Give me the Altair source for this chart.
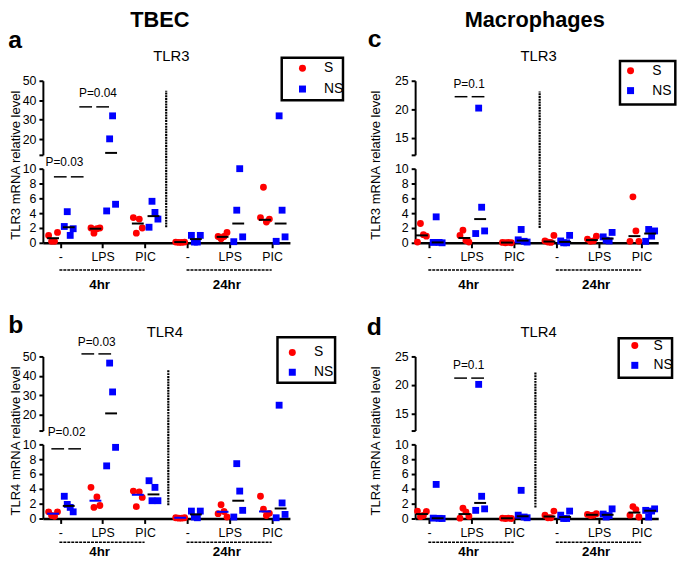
import json
import altair as alt
import pandas as pd

FONT = "Liberation Sans"
GROUP_LABELS = ["-", "LPS", "PIC", "-", "LPS", "PIC"]
TIME_LABELS = ["4hr", "24hr"]
TIME_CENTERS = [1, 4]
SERIES = ["S", "NS"]
SERIES_COLORS = ["#ff0000", "#0000ff"]
SERIES_SHAPES = ["circle", "square"]

# ---------------- a : TBEC, TLR3 ----------------
a_S = [[1.0, 0.2, 0.2, 1.4], [2.0, 1.3, 1.9, 2.0], [3.4, 1.3, 3.2, 2.0],
       [0.1, 0.05, 0.05, 0.1], [0.85, 0.55, 0.85, 1.4], [3.4, 7.5, 2.8, 3.2]]
a_NS = [[2.2, 4.2, 1.0, 1.9], [4.3, 20.2, 32.0, 5.2], [2.1, 5.6, 4.1, 3.2],
        [1.0, 0.1, 0.1, 1.0], [0.15, 4.4, 10.0, 0.8], [0.2, 32.0, 4.4, 0.8]]
a_med_S = [0.62, 1.9, 2.6, 0.1, 0.8, 3.1]
a_med_NS = [2.1, 13.0, 3.6, 0.5, 2.6, 2.6]
a_p_text = ["P=0.03", "P=0.04"]
a_p_x = [0.2, 0.8]
a_p_y = [8.9, 36.6]
a_p_text_x = [0.1, 0.89]
a_p_text_y = [10.9, 43.9]

# ---------------- b : TBEC, TLR4 ----------------
b_S = [[0.9, 0.4, 0.3, 0.9], [4.2, 1.5, 2.9, 1.75], [3.7, 1.6, 3.6, 2.85],
       [0.1, 0.05, 0.05, 0.1], [0.65, 1.85, 0.95, 0.2], [3.0, 1.25, 0.4, 0.7]]
b_NS = [[3.0, 1.9, 1.5, 0.9], [7.1, 46.6, 31.8, 9.6], [5.1, 2.4, 4.2, 2.4],
        [1.0, 0.2, 0.1, 1.0], [0.2, 7.4, 3.7, 1.1], [0.1, 25.0, 2.1, 0.55]]
b_med_S = [0.65, 2.4, 3.2, 0.1, 0.9, 0.95]
b_med_NS = [1.7, 20.8, 3.25, 0.55, 2.4, 1.35]
b_p_text = ["P=0.02", "P=0.03"]
b_p_x = [0.14, 0.85]
b_p_y = [9.4, 51.3]
b_p_text_x = [0.15, 0.86]
b_p_text_y = [11.2, 57.6]

# ---------------- c : Macrophages, TLR3 ----------------
c_S = [[0.1, 2.6, 1.1, 0.9], [1.0, 1.7, 0.3, 0.1], [0.05, 0.0, 0.05, 0.0],
       [0.25, 0.1, 0.05, 1.0], [0.5, 0.2, 0.25, 0.9], [0.2, 6.2, 1.6, 0.2]]
c_NS = [[0.05, 3.5, 0.05, 0.0], [1.25, 20.2, 4.8, 1.6], [0.4, 1.8, 0.2, 0.1],
        [0.25, 0.0, 0.0, 1.0], [0.8, 0.35, 0.25, 1.4], [0.2, 1.8, 0.9, 1.6]]
c_med_S = [1.0, 0.65, 0.03, 0.17, 0.37, 0.9]
c_med_NS = [0.05, 3.2, 0.3, 0.12, 0.57, 1.25]
c_p_text = ["P=0.1"]
c_p_x = [0.95]
c_p_y = [22.2]
c_p_text_x = [0.94]
c_p_text_y = [24.4]

# ---------------- d : Macrophages, TLR4 ----------------
d_S = [[1.0, 0.25, 0.4, 0.95], [0.05, 1.4, 0.9, 0.3], [0.05, 0.0, 0.05, 0.0],
       [0.45, 0.1, 0.1, 1.0], [0.55, 0.4, 0.45, 0.65], [0.45, 1.6, 1.2, 0.2]]
d_NS = [[0.05, 4.6, 0.02, 0.0], [1.1, 20.1, 3.0, 1.3], [0.45, 3.8, 0.2, 0.1],
        [0.45, 0.0, 0.0, 1.0], [0.6, 0.2, 0.4, 1.3], [1.1, 0.2, 1.0, 1.3]]
d_med_S = [0.6, 0.6, 0.03, 0.27, 0.5, 0.8]
d_med_NS = [0.03, 2.1, 0.3, 0.2, 0.5, 1.05]
d_p_text = ["P=0.1"]
d_p_x = [0.94]
d_p_y = [21.2]
d_p_text_x = [0.93]
d_p_text_y = [23.5]

H = 75  # height of each axis segment
X_CALC = "datum.g + (datum.s == 'S' ? -0.17 : 0.2)"
ONE = alt.Data(values=[{"k": 1}])


def point_df(S, NS):
    rows = []
    for s, arr in zip(SERIES, [S, NS]):
        for g, vals in enumerate(arr):
            for i, v in enumerate(vals):
                rows.append({"g": g, "s": s, "i": i, "v": v})
    return pd.DataFrame(rows)


def med_df(mS, mNS, cS, cNS):
    rows = []
    for s, arr, col in zip(SERIES, [mS, mNS], [cS, cNS]):
        for g, v in enumerate(arr):
            rows.append({"g": g, "s": s, "v": v, "c": col})
    return pd.DataFrame(rows)


def pdash_df(px, py):
    return pd.DataFrame([{"dx": x, "v": y, "side": sd}
                         for x, y in zip(px, py) for sd in (-1, 1)])


def ptext_df(pt, tx, ty):
    return pd.DataFrame({"t": pt, "x": tx, "v": ty})


def single_text(text, x, y, size, weight="normal", align="center", baseline="middle"):
    return alt.Chart(ONE).mark_text(
        text=text, fontSize=size, fontWeight=weight, align=align,
        baseline=baseline, font=FONT, color="black"
    ).encode(x=alt.value(x), y=alt.value(y))


YAX = dict(tickSize=4, tickWidth=2, domainWidth=2, labelPadding=3, labelFontSize=12.5,
           labelFont=FONT, grid=False, domainColor="black", tickColor="black",
           labelColor="black", labelOverlap=False, labelFlush=False)


def segment(p, upper):
    W = p["width"]
    xs = alt.Scale(domain=p["xdom"], nice=False, zero=False)
    if upper:
        ys = alt.Scale(domain=p["up_dom"], nice=False, zero=False)
        yaxis = alt.Axis(values=p["up_ticks"], title=None,
                         labelExpr=f"datum.value == {p['up_dom'][0]} ? '' : datum.label", **YAX)
        xaxis = None
        filt = "datum.v > 11"
    else:
        ys = alt.Scale(domain=[0, 10], nice=False, zero=False)
        yaxis = alt.Axis(values=[0, 2, 4, 6, 8, 10], title=p["ytitle"], titleX=p["ytitle_x"],
                         titleY=-4, titleAngle=270, titleAlign="center", titleBaseline="middle",
                         titleFontSize=13.2, titleFontWeight="normal", titleFont=FONT,
                         titleColor="black", **YAX)
        xaxis = alt.Axis(values=list(range(len(GROUP_LABELS))),
                         labelExpr=f"{json.dumps(GROUP_LABELS)}[datum.value]",
                         title=None, tickSize=5, tickWidth=2, domainWidth=2.5, labelPadding=3,
                         labelFontSize=12.5, labelFont=FONT, labelAngle=0, grid=False,
                         domainColor="black", tickColor="black", labelColor="black",
                         labelOverlap=False, labelFlush=False)
        filt = "datum.v <= 11"

    def X(f):
        return alt.X(f"{f}:Q", scale=xs, axis=xaxis)

    def Y(f):
        return alt.Y(f"{f}:Q", scale=ys, axis=yaxis)

    if upper:
        lg = p["legend"]
        leg = alt.Legend(orient="none", legendX=lg["x"], legendY=lg["y"], title=None,
                         labelFontSize=14, labelFont=FONT, labelColor="black",
                         symbolSize=50, symbolStrokeWidth=0, labelOffset=lg["lo"],
                         rowPadding=lg["rp"], padding=0)
    else:
        leg = None

    pts = alt.Chart(p["pts"]).transform_filter(filt).transform_calculate(
        xp=f"{X_CALC} + (datum.i - 1.5) * 0.07"
    ).mark_point(filled=True, size=48, opacity=1).encode(
        x=X("xp"), y=Y("v"),
        color=alt.Color("s:N", scale=alt.Scale(domain=SERIES, range=SERIES_COLORS), legend=leg),
        shape=alt.Shape("s:N", scale=alt.Scale(domain=SERIES, range=SERIES_SHAPES), legend=leg),
    )
    med = alt.Chart(p["med"]).transform_filter(filt).transform_calculate(
        x0=f"{X_CALC} - 0.14", x1=f"{X_CALC} + 0.14"
    ).mark_rule(strokeWidth=2).encode(
        x=X("x0"), x2="x1:Q", y=Y("v"), stroke=alt.Stroke("c:N", scale=None)
    )
    pd_f = "datum.v > 11" if upper else "datum.v <= 11"
    pdash = alt.Chart(p["pdash"]).transform_filter(pd_f).transform_calculate(
        x0="datum.dx + datum.side * 0.2 - 0.15", x1="datum.dx + datum.side * 0.2 + 0.15"
    ).mark_rule(strokeWidth=1.5, color="black").encode(x=X("x0"), x2="x1:Q", y=Y("v"))
    ptxt = alt.Chart(p["ptext"]).transform_filter(pd_f).mark_text(
        fontSize=12, font=FONT, color="black", align="center", baseline="middle"
    ).encode(x=X("x"), y=Y("v"), text="t:N")
    layers = [pts, med, pdash, ptxt]

    if upper:
        bx = p["box"]
        box = alt.Chart(ONE).mark_rect(fill="white", stroke="black", strokeWidth=2.5).encode(
            x=alt.value(bx[0]), x2=alt.value(bx[1]), y=alt.value(bx[2]), y2=alt.value(bx[3]))
        layers.insert(0, box)
        layers.append(single_text(p["title"], p["title_x"], -24.5, 15))
        layers.append(single_text(p["letter"], p["letter_x"], p["letter_y"], 25, "bold",
                                  align="left", baseline="alphabetic"))
        if p.get("header"):
            layers.append(single_text(p["header"], p["header_x"], -54.5, 22, "bold",
                                      baseline="alphabetic"))
    else:
        vx, vy0, vy1 = p["vline"]
        vdf = pd.DataFrame({"x": [vx], "v0": [vy0], "v1": [vy1]})
        vline = alt.Chart(vdf).mark_rule(strokeWidth=2.2, strokeDash=[2, 0.8], color="black").encode(
            x=X("x"), y=Y("v0"), y2="v1:Q")
        tdf = pd.DataFrame({"t": TIME_LABELS, "c": TIME_CENTERS})
        tdash = alt.Chart(tdf).transform_calculate(
            x0="datum.c - 1.02", x1="datum.c + 0.99"
        ).mark_rule(strokeWidth=1.6, strokeDash=[3, 1], color="black").encode(
            x=X("x0"), x2="x1:Q", y=alt.value(H + p["tdash_y"]))
        ttxt = alt.Chart(tdf).mark_text(fontSize=13.5, fontWeight="bold", font=FONT,
                                        color="black", dx=-3, baseline="middle").encode(
            x=X("c"), y=alt.value(H + p["tlabel_y"]), text="t:N")
        layers += [vline, tdash, ttxt]

    return alt.layer(*layers).properties(width=W, height=H)


panels = {
    "a": dict(pts=point_df(a_S, a_NS), med=med_df(a_med_S, a_med_NS, "black", "black"),
              pdash=pdash_df(a_p_x, a_p_y), ptext=ptext_df(a_p_text, a_p_text_x, a_p_text_y),
              width=250, xdom=[-0.41, 5.42], up_dom=[12, 50], up_ticks=[12, 20, 30, 40, 50],
              ytitle="TLR3 mRNA relative level", ytitle_x=-28, title="TLR3", title_x=130,
              letter="a", letter_x=-35, letter_y=-33.3, header="TBEC", header_x=118.4,
              legend=dict(x=255.7, y=-19.6, lo=14.7, rp=7), box=[241.7, 303.7, -23.3, 19.7],
              vline=[2.5, 2.1, 20.5], tdash_y=27.5, tlabel_y=42.5),
    "b": dict(pts=point_df(b_S, b_NS), med=med_df(b_med_S, b_med_NS, "#0000ff", "black"),
              pdash=pdash_df(b_p_x, b_p_y), ptext=ptext_df(b_p_text, b_p_text_x, b_p_text_y),
              width=250, xdom=[-0.41, 5.42], up_dom=[12, 50], up_ticks=[12, 20, 30, 40, 50],
              ytitle="TLR4 mRNA relative level", ytitle_x=-28, title="TLR4", title_x=123.4,
              letter="b", letter_x=-35, letter_y=-23.4,
              legend=dict(x=245.4, y=-11, lo=15, rp=6), box=[237.4, 295.7, -19.4, 26.6],
              vline=[2.55, 1.8, 20.0], tdash_y=24, tlabel_y=33.5),
    "c": dict(pts=point_df(c_S, c_NS), med=med_df(c_med_S, c_med_NS, "black", "black"),
              pdash=pdash_df(c_p_x, c_p_y), ptext=ptext_df(c_p_text, c_p_text_x, c_p_text_y),
              width=246, xdom=[-0.33, 5.39], up_dom=[12, 25], up_ticks=[12, 15, 20, 25],
              ytitle="TLR3 mRNA relative level", ytitle_x=-40, title="TLR3", title_x=125,
              letter="c", letter_x=-48, letter_y=-34, header="Macrophages", header_x=121,
              legend=dict(x=211, y=-17, lo=15, rp=6), box=[207.3, 263.3, -20, 24],
              vline=[2.6, 2.0, 20.4], tdash_y=27.5, tlabel_y=42.5),
    "d": dict(pts=point_df(d_S, d_NS), med=med_df(d_med_S, d_med_NS, "black", "black"),
              pdash=pdash_df(d_p_x, d_p_y), ptext=ptext_df(d_p_text, d_p_text_x, d_p_text_y),
              width=246, xdom=[-0.33, 5.39], up_dom=[12, 25], up_ticks=[12, 15, 20, 25],
              ytitle="TLR4 mRNA relative level", ytitle_x=-40, title="TLR4", title_x=125,
              letter="d", letter_x=-49, letter_y=-21.7,
              legend=dict(x=215.3, y=-18, lo=12, rp=6), box=[206, 260, -18.4, 21.6],
              vline=[2.5, 1.5, 19.7], tdash_y=24, tlabel_y=33.5),
}


def spacer(w):
    return alt.Chart(ONE).mark_point(opacity=0).encode(
        x=alt.value(0), y=alt.value(0)).properties(width=w, height=86.4)


cells = [
    segment(panels["a"], True), segment(panels["c"], True),
    segment(panels["a"], False), segment(panels["c"], False),
    spacer(250), spacer(246),
    segment(panels["b"], True), segment(panels["d"], True),
    segment(panels["b"], False), segment(panels["d"], False),
]

chart = alt.concat(
    *cells, columns=2, spacing={"row": 14, "column": 126.7}, bounds="flush", align="each"
).resolve_scale(
    color="independent", shape="independent", x="independent", y="independent",
    stroke="independent"
).properties(
    autosize=alt.AutoSizeParams(type="none"),
    padding={"left": 35.3, "top": 70.3, "right": 641.7, "bottom": 482.7},
).configure(font=FONT).configure_view(stroke=None)

chart.save("out.html", embed_options={"renderer": "svg", "actions": False})
